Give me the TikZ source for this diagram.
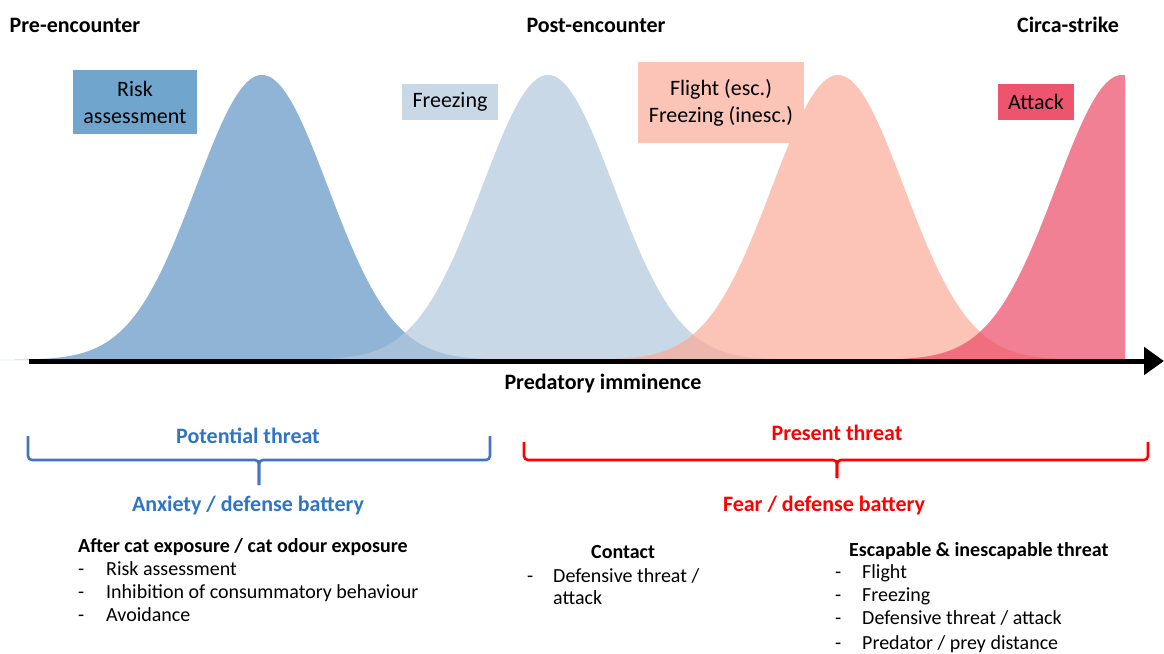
\documentclass[tikz,border=0pt]{standalone}
\usepackage{fontspec}
\setmainfont{Carlito}
\usetikzlibrary{arrows.meta}
\definecolor{bOne}{RGB}{95,148,196}
\definecolor{bTwo}{RGB}{177,199,219}
\definecolor{salm}{RGB}{251,171,151}
\definecolor{atk}{RGB}{236,74,102}
\definecolor{boxRisk}{RGB}{112,166,206}
\definecolor{boxFrz}{RGB}{200,216,230}
\definecolor{boxFl}{RGB}{251,196,182}
\definecolor{boxAtk}{RGB}{238,84,110}
\definecolor{potblue}{RGB}{46,117,196}
\definecolor{brblue}{RGB}{68,114,196}
\definecolor{prred}{RGB}{255,0,0}
\tikzset{
  head/.style={font=\fontsize{22}{26}\selectfont\bfseries, inner sep=0pt},
  body/.style={font=\fontsize{20}{24}\selectfont, inner sep=0pt, anchor=west, text height=10pt, text depth=3pt, yshift=-3pt},
  bodyb/.style={font=\fontsize{20}{24}\selectfont\bfseries, inner sep=0pt, anchor=west, text height=10pt, text depth=3pt, yshift=-3pt},
  lbox/.style={font=\fontsize{22}{27}\selectfont, align=center, inner sep=0pt},
  brace/.style={line width=2.6pt, rounded corners=4pt},
  curve/.style={opacity=0.7}
}
\begin{document}
\begin{tikzpicture}[x=1pt,y=-1pt]
\useasboundingbox (0,0) rectangle (1164,653);
% curves
\fill[bOne,curve] (0,360) -- plot[domain=0:560,samples=200] (\x,{360-285*exp(-0.5*((\x-262)/66)^2)}) -- (560,360) -- cycle;
\fill[bTwo,curve] (250,360) -- plot[domain=250:850,samples=200] (\x,{360-285*exp(-0.5*((\x-548)/66)^2)}) -- (850,360) -- cycle;
\fill[salm,curve] (540,360) -- plot[domain=540:1140,samples=200] (\x,{360-285*exp(-0.5*((\x-838)/66)^2)}) -- (1140,360) -- cycle;
\fill[atk,curve] (820,360) -- plot[domain=820:1125,samples=200] (\x,{360-285*exp(-0.5*((\x-1122)/66)^2)}) -- (1125,360) -- cycle;
% axis
\coordinate (axs) at (29,361);
\coordinate (axe) at (1164,361);
\draw[line width=5pt, -{Triangle[length=20pt,width=27pt]}] (axs) -- (axe);
% phase titles
\node[head] (pre) at (75,25) {Pre-encounter};
\node[head] (post) at (596,25) {Post-encounter};
\node[head] (circa) at (1068,25) {Circa-strike};
% boxes
\node[lbox, fill=boxRisk, minimum width=124pt, minimum height=64pt] (risk) at (135,102) {Risk\\assessment};
\node[lbox, fill=boxFrz, minimum width=96pt, minimum height=36pt] (frz) at (450,102) {\raisebox{-2pt}{Freezing}};
\node[lbox, fill=boxFl, minimum width=166pt, minimum height=81pt] (fl) at (721,102.5) {Flight (esc.)\\Freezing (inesc.)};
\node[lbox, fill=boxAtk, minimum width=76pt, minimum height=36pt] (atkbox) at (1036,102) {Attack};
\node[head] (pi) at (603,384) {Predatory imminence};
% brackets
\coordinate (bl1) at (28,436);
\coordinate (bl2) at (490,436);
\coordinate (blm) at (259,485);
\draw[brblue, brace] (bl1) -- (28,460) -- (259,460) -- (blm);
\draw[brblue, brace] (bl2) -- (490,460) -- (259,460) -- (blm);
\coordinate (br1) at (524,442);
\coordinate (br2) at (1148,442);
\coordinate (brm) at (837,478);
\draw[prred, brace] (br1) -- (524,460) -- (837,460) -- (brm);
\draw[prred, brace] (br2) -- (1148,460) -- (837,460) -- (brm);
\node[head, text=potblue] (pot) at (248,436) {Potential threat};
\node[head, text=potblue] (anx) at (248,506) {Anxiety / defense battery};
\node[head, text=prred] (pres) at (837,433) {Present threat};
\node[head, text=prred] (fear) at (824,506) {Fear / defense battery};
% left list
\node[bodyb] (after) at (78,546) {After cat exposure / cat odour exposure};
\node[body] (d1) at (78,569) {-};
\node[body] (t1) at (106,569) {Risk assessment};
\node[body] (d2) at (78,592) {-};
\node[body] (t2) at (106,592) {Inhibition of consummatory behaviour};
\node[body] (d3) at (78,615) {-};
\node[body] (t3) at (106,615) {Avoidance};
% contact
\node[bodyb] (contact) at (591,552) {Contact};
\node[body] (c1) at (527,576) {-};
\node[body] (ct1) at (553,576) {Defensive threat /};
\node[body] (ct2) at (553,598) {attack};
% escapable
\node[bodyb] (esc) at (849,550) {Escapable \& inescapable threat};
\node[body] (e1) at (835,572) {-};
\node[body] (et1) at (862,572) {Flight};
\node[body] (e2) at (835,595) {-};
\node[body] (et2) at (862,595) {Freezing};
\node[body] (e3) at (835,618) {-};
\node[body] (et3) at (862,618) {Defensive threat / attack};
\node[body] (e4) at (835,643) {-};
\node[body] (et4) at (862,643) {Predator / prey distance};
\end{tikzpicture}
\end{document}
